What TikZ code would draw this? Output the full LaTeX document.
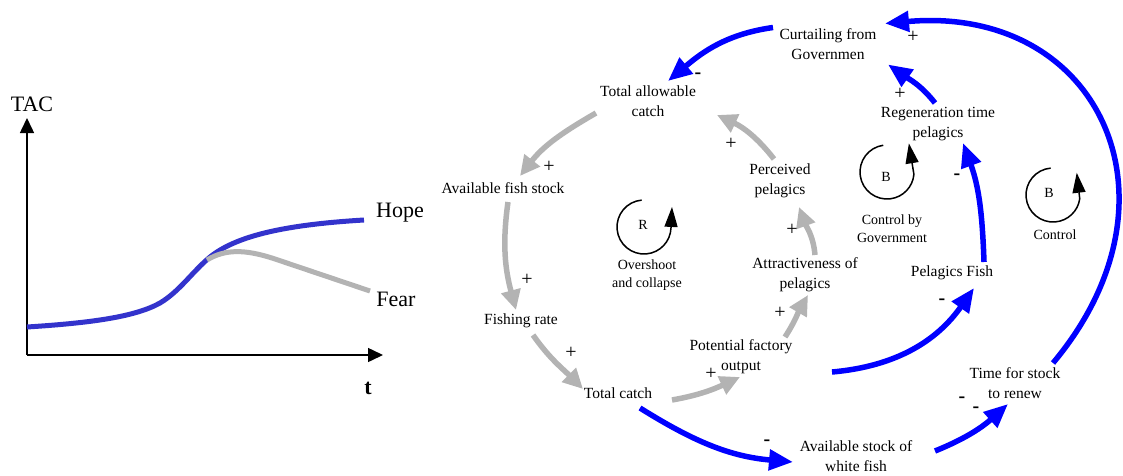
\documentclass[tikz,border=0pt]{standalone}
\usepackage{fontspec}
\setmainfont{LiberationSerif}[Extension=.ttf,UprightFont=*-Regular,BoldFont=*-Bold,ItalicFont=*-Italic,BoldItalicFont=*-BoldItalic]
\usetikzlibrary{arrows.meta}
\definecolor{cldgray}{HTML}{B3B3B3}
\definecolor{cldblue}{HTML}{0000FF}
\definecolor{chartblue}{HTML}{3333CC}
\begin{document}
\begin{tikzpicture}[x=1pt,y=1pt,
  lbl/.style={font=\fontsize{15.5}{20}\selectfont, align=center, inner sep=1pt},
  small/.style={font=\fontsize{14}{18}\selectfont, align=center, inner sep=1pt},
  sign/.style={font=\fontsize{20}{20}\selectfont, inner sep=0pt},
  big/.style={font=\fontsize{22}{22}\selectfont, inner sep=0pt},
  garrow/.style={line width=5.5pt, draw=cldgray, -{Triangle[length=20pt,width=19pt]}},
  barrow/.style={line width=5.5pt, draw=cldblue, -{Triangle[length=24pt,width=20pt]}},
  loopline/.style={line width=1.5pt, -{Triangle[length=20pt,width=13pt]}},
  axisline/.style={line width=1.5pt, -{Triangle[length=15pt,width=14pt]}},
  curve/.style={line width=5pt}
]
\useasboundingbox (0,0) rectangle (1123,475);

% ---------- left chart ----------
\draw[axisline] (27,120) -- (27,357);
\draw[axisline] (27,120) -- (383,120);
\node[big] (taclabel) at (32,371) {TAC};
\node[big] (hope) at (400,262) {Hope};
\node[big] (fear) at (396,176) {Fear};
\node[big, font=\fontsize{22}{22}\selectfont\bfseries] (tlabel) at (368,87) {t};
\draw[curve, chartblue] (27,148) .. controls (90,152) and (135,158) .. (160,172)
  .. controls (180,184) and (192,203) .. (210,218)
  .. controls (235,238) and (280,250) .. (364,255);
\draw[curve, cldgray] (207,215) .. controls (225,226) and (245,226) .. (275,216)
  -- (370,184);

% ---------- causal loop diagram ----------
\node[lbl] (cur) at (828,431) {Curtailing from\\Governmen};
\node[lbl] (tac) at (648,374) {Total allowable\\catch};
\node[lbl] (reg) at (938,351) {Regeneration time\\pelagics};
\node[lbl] (afs) at (503,287) {Available fish stock};
\node[lbl] (per) at (780,294) {Perceived\\pelagics};
\node[lbl] (attr) at (805,200) {Attractiveness of\\pelagics};
\node[lbl] (pf) at (952,202) {Pelagics Fish};
\node[lbl] (fr) at (521,154) {Fishing rate};
\node[lbl] (pfo) at (741,118) {Potential factory\\output};
\node[lbl] (tc) at (618,82) {Total catch};
\node[lbl] (tsr) at (1015,92) {Time for stock\\to renew};
\node[lbl] (wf) at (856,19) {Available stock of\\white fish};

\node[small] (over) at (647,200) {Overshoot\\and collapse};
\node[small] (ctlgov) at (892,246) {Control by\\Government};
\node[small] (ctl) at (1055,240) {Control};

% loop symbols
\coordinate (Rc) at (644,248);
\coordinate (B1c) at (887,303);
\coordinate (B2c) at (1053,280);
\node[small] (Rl) at (643,250) {R};
\node[small] (B1l) at (886,298) {B};
\node[small] (B2l) at (1049,282) {B};
\draw[loopline] ([shift={(95:27)}]Rc) arc[start angle=95,end angle=358,radius=27] -- ++(1,21);
\draw[loopline] ([shift={(98:27)}]B1c) arc[start angle=98,end angle=355,radius=27] -- ++(-5,31);
\draw[loopline] ([shift={(95:27)}]B2c) arc[start angle=95,end angle=352,radius=27] -- ++(-3,26);

% gray links
\draw[garrow] ([shift={(-52,-12)}]tac.center) to[out=210,in=52] ([shift={(17,12)}]afs.center);
\draw[garrow] ([shift={(5,-14)}]afs.center) to[out=262,in=105] ([shift={(-5,11)}]fr.center);
\draw[garrow] ([shift={(12,-14)}]fr.center) to[out=305,in=135] ([shift={(-35,4)}]tc.center);
\draw[garrow] ([shift={(54,-7)}]tc.center) to[out=10,in=205] ([shift={(-1,-20)}]pfo.center);
\draw[garrow] ([shift={(44,20)}]pfo.center) to[out=57,in=240] ([shift={(3,-20)}]attr.center);
\draw[garrow] ([shift={(10,20)}]attr.center) to[out=95,in=290] ([shift={(19,-26)}]per.center);
\draw[garrow] ([shift={(-6,22)}]per.center) to[out=128,in=335] ([shift={(69,-14)}]tac.center);

% blue links
\draw[barrow] ([shift={(-55,16.5)}]cur.center) to[out=188,in=40] ([shift={(20,20)}]tac.center);
\draw[barrow] ([shift={(-3,21)}]reg.center) to[out=128,in=325] ([shift={(60,-20.5)}]cur.center);
\draw[barrow] ([shift={(38,20)}]tsr.center) to[out=50,in=5,looseness=1.45] ([shift={(57,20.5)}]cur.center);
\draw[barrow] ([shift={(32,11)}]pf.center) to[out=92,in=290] ([shift={(25,-19)}]reg.center);
\draw[barrow] ([shift={(91,-15)}]pfo.center) to[out=5,in=235] ([shift={(22,-15)}]pf.center);
\draw[barrow] ([shift={(22,-15)}]tc.center) to[out=328,in=175] ([shift={(-63,-6)}]wf.center);
\draw[barrow] ([shift={(79,5)}]wf.center) to[out=22,in=222] ([shift={(-7,-21)}]tsr.center);

% polarity signs
\node[sign] (s1) at (698,399) {\textbf{-}};
\node[sign] (s2) at (913,438) {+};
\node[sign] (s3) at (900,381) {+};
\node[sign] (s4) at (549,308) {+};
\node[sign] (s5) at (731,331) {+};
\node[sign] (s6) at (792,245) {+};
\node[sign] (s7) at (957,298) {\textbf{-}};
\node[sign] (s8) at (527,195) {+};
\node[sign] (s9) at (571,122) {+};
\node[sign] (s10) at (780,162) {+};
\node[sign] (s11) at (711,101) {+};
\node[sign] (s12) at (942,173) {\textbf{-}};
\node[sign] (s13) at (767,32) {\textbf{-}};
\node[sign] (s14) at (962,75) {\textbf{-}};
\node[sign] (s15) at (976,65) {\textbf{-}};
\end{tikzpicture}
\end{document}
